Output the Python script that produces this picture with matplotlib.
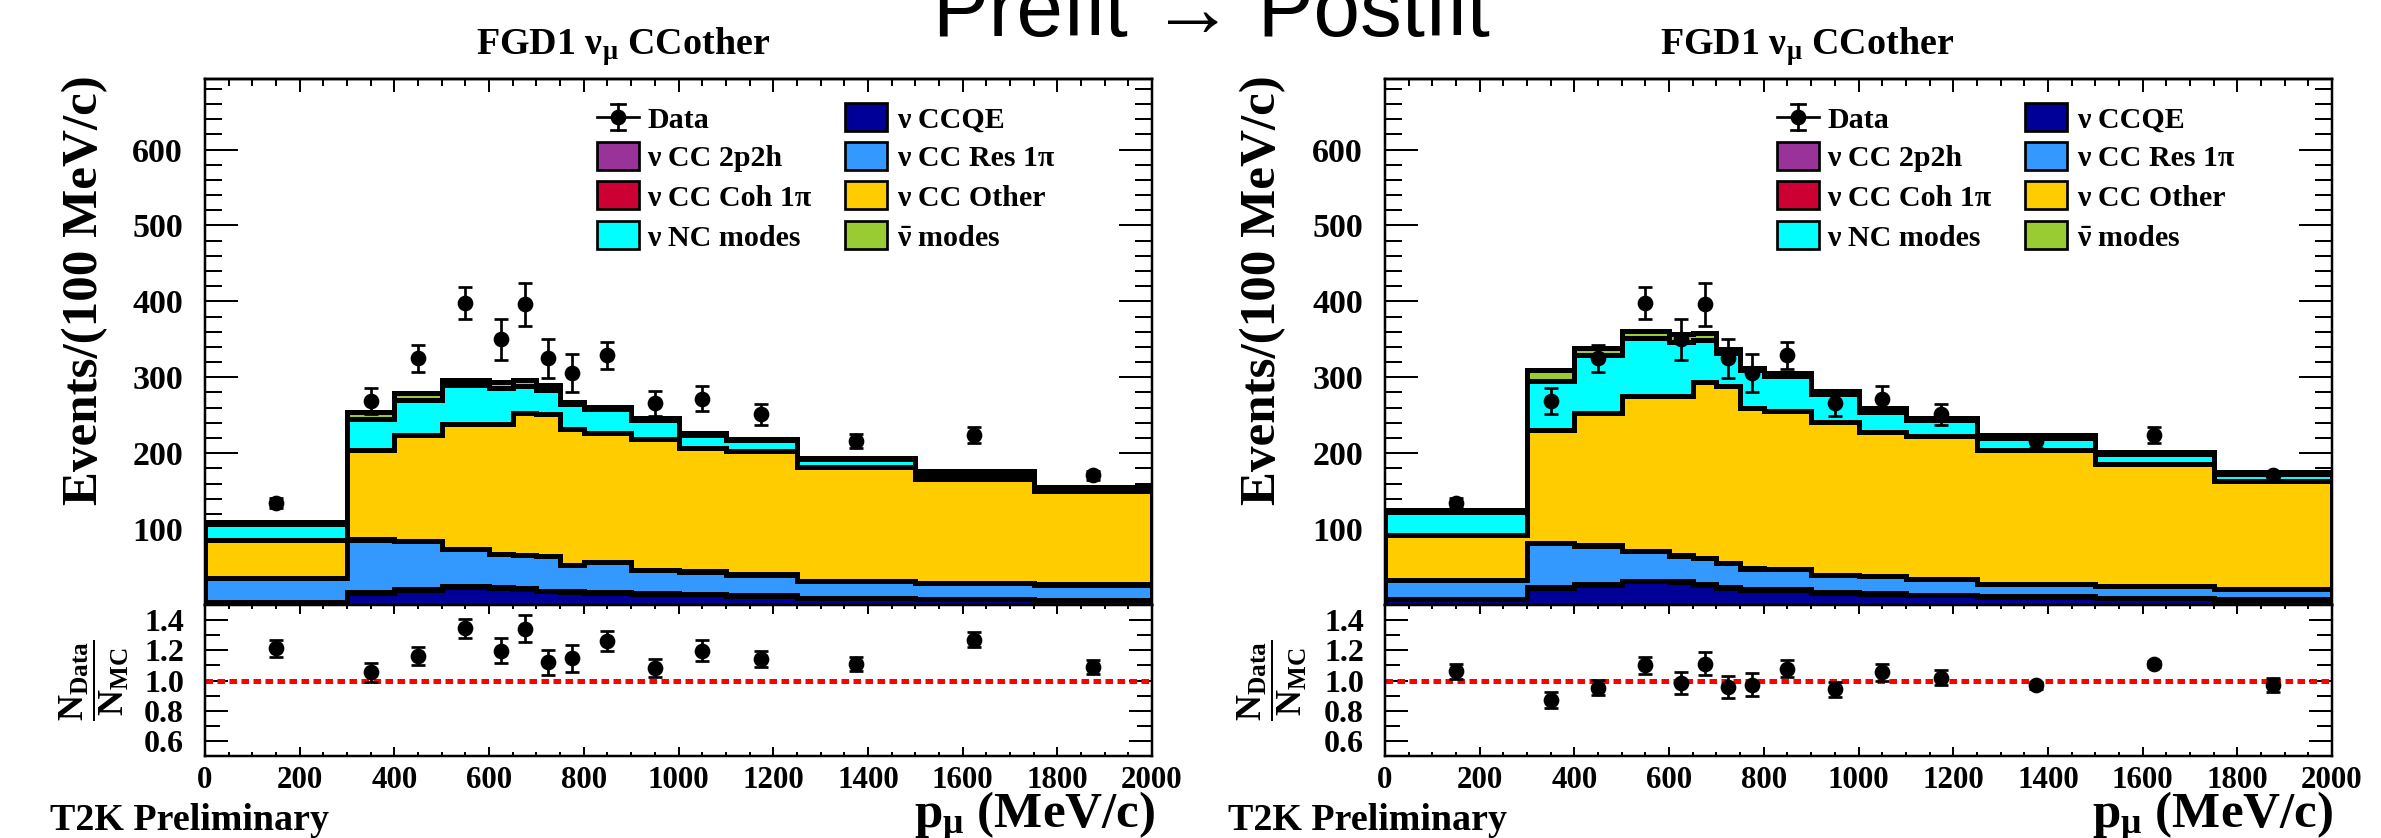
import numpy as np
import matplotlib
matplotlib.use("Agg")
import matplotlib.pyplot as plt
from matplotlib.ticker import MultipleLocator, FixedLocator, FuncFormatter
from matplotlib.patches import Rectangle
from matplotlib.lines import Line2D

plt.rcParams['font.family'] = ['Liberation Serif', 'DejaVu Sans']
plt.rcParams['font.weight'] = 'bold'
plt.rcParams['mathtext.fontset'] = 'custom'
plt.rcParams['mathtext.rm'] = 'Liberation Serif:bold'
plt.rcParams['mathtext.it'] = 'Liberation Serif:bold'
plt.rcParams['mathtext.bf'] = 'Liberation Serif:bold'
plt.rcParams['mathtext.default'] = 'bf'

W, H = 2381, 838
PT = 0.72  # points per pixel at 100 dpi

# ---------------- data ----------------
edges = [0, 300, 400, 500, 600, 650, 700, 750, 800, 900, 1000, 1100, 1250, 1500, 1750, 2000]
centers = [150, 350, 450, 550, 625, 675, 725, 775, 850, 950, 1050, 1175, 1375, 1625, 1875]

data = [134, 269, 325, 398, 350, 396, 325, 306, 329, 266, 272, 251, 216, 224, 171]
data_err = [6.7, 17, 18, 21, 27, 28.5, 26, 25, 18, 16.4, 17, 13.6, 9.3, 10.3, 6.0]

labels = ['ν CCQE', 'ν CC 2p2h', 'ν CC Res 1π', 'ν CC Coh 1π', 'ν CC Other',
          'ν NC modes', r'$\bar{\nu}$ modes']
colors = ['#000099', '#993399', '#3399ff', '#cc0033', '#ffcc00', '#00ffff', '#99cc33']

# prefit prediction, per mode
pre_ccqe = [4.0, 16, 20, 24, 23, 21, 18, 17, 16, 15, 14, 12, 9.0, 7.5, 6.5]
pre_2p2h = [0.3, 1.0, 1.0, 1.0, 1.0, 1.0, 1.0, 1.0, 1.0, 0.8, 0.7, 0.6, 0.5, 0.4, 0.4]
pre_res = [30.7, 69, 63, 49, 43, 44, 45, 35, 39, 30.2, 29.3, 27.4, 22.5, 21.1, 20.1]
pre_coh = [0.2, 0.5, 0.5, 0.4, 0.4, 0.3, 0.3, 0.3, 0.3, 0.2, 0.2, 0.2, 0.1, 0.1, 0.1]
pre_other = [50, 118, 139, 164, 171, 186, 187, 178, 170, 173, 163, 163, 150, 137, 123]
pre_nc = [21, 41, 47, 51, 47, 36, 32, 33, 32, 24, 17, 14, 10, 7, 5]
pre_nubar = [3, 9, 9, 7, 9, 8, 6, 3, 3, 3, 2, 2, 2, 3, 1]

# postfit prediction, per mode
post_ccqe = [8.0, 22, 27, 31, 30.5, 27, 22.6, 19.5, 19.5, 16.2, 15.1, 12.9, 10.8, 9.2, 7.0]
post_2p2h = [0.3, 1.5, 1.0, 1.0, 1.0, 1.0, 1.0, 1.0, 1.0, 0.8, 0.7, 0.6, 0.5, 0.4, 0.4]
post_res = [24, 58, 50, 39.4, 33.7, 33.8, 32, 27.3, 26.3, 22.8, 21.8, 20.2, 16.7, 15.4, 14]
post_coh = [0.2, 0.5, 0.5, 0.4, 0.4, 0.3, 0.3, 0.3, 0.3, 0.2, 0.2, 0.2, 0.1, 0.1, 0.1]
post_other = [60, 149, 175, 204, 210, 232, 232, 212, 209, 201.5, 190.4, 189.2, 176, 160.7, 142.3]
post_nc = [29.6, 63.5, 75.4, 75.4, 71, 54.8, 43.7, 49, 45.2, 36.4, 26, 20, 16, 13.3, 9.3]
post_nubar = [3.6, 15.3, 10, 9.2, 10.1, 10.1, 5.5, 3.5, 3.9, 3.5, 4.8, 3.1, 3.8, 2.0, 1.8]

pre_ratio = [1.213, 1.053, 1.164, 1.347, 1.197, 1.342, 1.12, 1.147, 1.262, 1.084, 1.197, 1.14, 1.107, 1.269, 1.09]
pre_ratio_err = [0.058, 0.06, 0.06, 0.063, 0.084, 0.09, 0.083, 0.09, 0.064, 0.058, 0.068, 0.053, 0.047, 0.049, 0.049]
post_ratio = [1.06, 0.871, 0.953, 1.1, 0.982, 1.111, 0.956, 0.971, 1.078, 0.942, 1.053, 1.018, 0.967, 1.111, 0.971]
post_ratio_err = [0.049, 0.052, 0.049, 0.054, 0.071, 0.076, 0.072, 0.076, 0.056, 0.048, 0.059, 0.051, 0.02, 0.02, 0.047]

x_ticks = list(range(0, 2001, 200))
main_y_ticks = [0, 100, 200, 300, 400, 500, 600]
ratio_y_ticks = [0.6, 0.8, 1.0, 1.2, 1.4]

# ---------------- figure ----------------
fig = plt.figure(figsize=(W / 100, H / 100), dpi=100)
fig.patch.set_facecolor('white')


def box(x0, y0, x1, y1):
    return [x0 / W, 1 - y1 / H, (x1 - x0) / W, (y1 - y0) / H]


def fx(x):
    return x / W


def fy(y):
    return 1 - y / H


def style_spines(ax):
    for s in ax.spines.values():
        s.set_linewidth(2.5 * PT)
        s.set_zorder(10)


def draw_panel(x0, comps, ratio, ratio_err):
    x1 = x0 + 947
    axm = fig.add_axes(box(x0, 79, x1, 605))
    axr = fig.add_axes(box(x0, 605, x1, 756))

    cum = np.cumsum(np.array(comps, dtype=float), axis=0)
    for i in reversed(range(len(comps))):
        axm.stairs(cum[i], edges, baseline=0, fill=True, facecolor=colors[i],
                   edgecolor='black', lw=5 * PT, joinstyle='miter', zorder=2)
    axm.errorbar(centers, data, yerr=data_err, fmt='o', color='black', ms=10.3,
                 elinewidth=2.7 * PT, capsize=7 * PT, capthick=2.7 * PT, zorder=6)

    axm.set_xlim(0, 2000)
    axm.set_ylim(0, 693)
    axm.xaxis.set_major_locator(FixedLocator(x_ticks))
    axm.xaxis.set_minor_locator(MultipleLocator(50))
    axm.yaxis.set_major_locator(FixedLocator(main_y_ticks))
    axm.yaxis.set_minor_locator(MultipleLocator(20))
    axm.yaxis.set_major_formatter(FuncFormatter(lambda v, p: '' if v == 0 else f'{v:.0f}'))
    axm.tick_params(axis='y', which='both', direction='in', left=True, right=True,
                    width=2 * PT, labelsize=34 * PT, pad=22 * PT)
    axm.tick_params(axis='y', which='major', length=33 * PT)
    axm.tick_params(axis='y', which='minor', length=17 * PT)
    axm.tick_params(axis='x', which='both', direction='in', bottom=True, top=False,
                    labelbottom=False, width=2 * PT)
    axm.tick_params(axis='x', which='major', length=20 * PT)
    axm.tick_params(axis='x', which='minor', length=9 * PT)
    top = axm.secondary_xaxis('top')
    top.xaxis.set_major_locator(FixedLocator(x_ticks))
    top.xaxis.set_minor_locator(MultipleLocator(50))
    top.tick_params(axis='x', which='both', direction='in', labeltop=False, width=2 * PT)
    top.tick_params(axis='x', which='major', length=13 * PT)
    top.tick_params(axis='x', which='minor', length=7 * PT)
    top.spines['top'].set_linewidth(2.5 * PT)
    style_spines(axm)

    axr.axhline(1.0, color='#ff0000', lw=5 * PT, dashes=(1.5, 0.9),
                dash_capstyle='butt', zorder=3)
    axr.errorbar(centers, ratio, yerr=ratio_err, fmt='o', color='black', ms=10.3,
                 elinewidth=2.7 * PT, capsize=7 * PT, capthick=2.7 * PT, zorder=6)
    axr.set_xlim(0, 2000)
    axr.set_ylim(0.5, 1.5)
    axr.xaxis.set_major_locator(FixedLocator(x_ticks))
    axr.xaxis.set_minor_locator(MultipleLocator(50))
    axr.yaxis.set_major_locator(FixedLocator(ratio_y_ticks))
    axr.yaxis.set_minor_locator(MultipleLocator(0.1))
    axr.yaxis.set_major_formatter(FuncFormatter(lambda v, p: f'{v:.1f}'))
    axr.tick_params(axis='y', which='both', direction='in', left=True, right=True,
                    width=2 * PT, labelsize=32 * PT, pad=21 * PT)
    axr.tick_params(axis='y', which='major', length=23 * PT)
    axr.tick_params(axis='y', which='minor', length=15 * PT)
    axr.tick_params(axis='x', which='both', direction='in', bottom=True, top=True,
                    width=2 * PT, labelsize=31 * PT, pad=10 * PT)
    axr.tick_params(axis='x', which='major', length=9 * PT)
    axr.tick_params(axis='x', which='minor', length=4 * PT)
    style_spines(axr)

    # legend, two columns
    rows = [117, 156, 195, 235]
    bx = [x0 + 392, x0 + 640]
    tx = [x0 + 442, x0 + 692]
    slots = [(0, 1), (1, 0), (1, 1), (2, 0), (2, 1), (3, 0), (3, 1)]
    # Data entry
    mx, my = x0 + 413, rows[0]
    fig.add_artist(Line2D([fx(x0 + 392), fx(x0 + 434)], [fy(my), fy(my)],
                          transform=fig.transFigure, color='black', lw=2.7 * PT))
    fig.add_artist(Line2D([fx(mx), fx(mx)], [fy(my - 13), fy(my + 13)],
                          transform=fig.transFigure, color='black', lw=2.7 * PT))
    for yy in (my - 13, my + 13):
        fig.add_artist(Line2D([fx(mx - 7), fx(mx + 7)], [fy(yy), fy(yy)],
                              transform=fig.transFigure, color='black', lw=2.7 * PT))
    fig.add_artist(Line2D([fx(mx)], [fy(my)], transform=fig.transFigure, marker='o',
                          ms=10.3, color='black', lw=0))
    fig.text(fx(tx[0]), fy(my), 'Data', fontsize=30 * PT, ha='left', va='center_baseline')
    for (r, c), lab, col in zip(slots, labels, colors):
        yc = rows[r]
        fig.add_artist(Rectangle((fx(bx[c]), fy(yc + 14)), 42 / W, 28 / H,
                                 transform=fig.transFigure, facecolor=col,
                                 edgecolor='black', lw=2.7 * PT))
        fig.text(fx(tx[c]), fy(yc), lab, fontsize=30 * PT, ha='left',
                 va='center_baseline')
    return axm, axr


draw_panel(205, [pre_ccqe, pre_2p2h, pre_res, pre_coh, pre_other, pre_nc, pre_nubar],
           pre_ratio, pre_ratio_err)
draw_panel(1385, [post_ccqe, post_2p2h, post_res, post_coh, post_other, post_nc, post_nubar],
           post_ratio, post_ratio_err)

# ---------------- texts ----------------
for off in (0, 1180):
    fig.text(fx(623 + off + (4 if off else 0)), fy(55), r'FGD1 $\nu_{\mu}$ CCother',
             fontsize=38 * PT, ha='center', va='baseline')
    fig.text(fx(85 + off - 2 * (off > 0)), fy(75), 'Events/(100 MeV/c)', fontsize=51 * PT,
             rotation=90, ha='center', va='top')
    fig.text(fx(94 + off - 2 * (off > 0)), fy(680), r'$\dfrac{N_{Data}}{N_{MC}}$',
             fontsize=26, rotation=90, ha='center', va='center')
    fig.text(fx(1155 + off - 2 * (off > 0)), fy(828), r'$\mathbf{p}_{\mu}$ (MeV/c)',
             fontsize=51 * PT, ha='right', va='baseline')
    fig.text(fx(50 + off - 2 * (off > 0)), fy(830), 'T2K Preliminary', fontsize=38 * PT,
             ha='left', va='baseline')

fig.text(fx(1211), fy(36), 'Prefit → Postfit', family=['Liberation Sans', 'DejaVu Sans'],
         fontweight='normal', fontsize=83.5 * PT, ha='center', va='baseline')

fig.savefig('out.png', dpi=100, facecolor='white')
